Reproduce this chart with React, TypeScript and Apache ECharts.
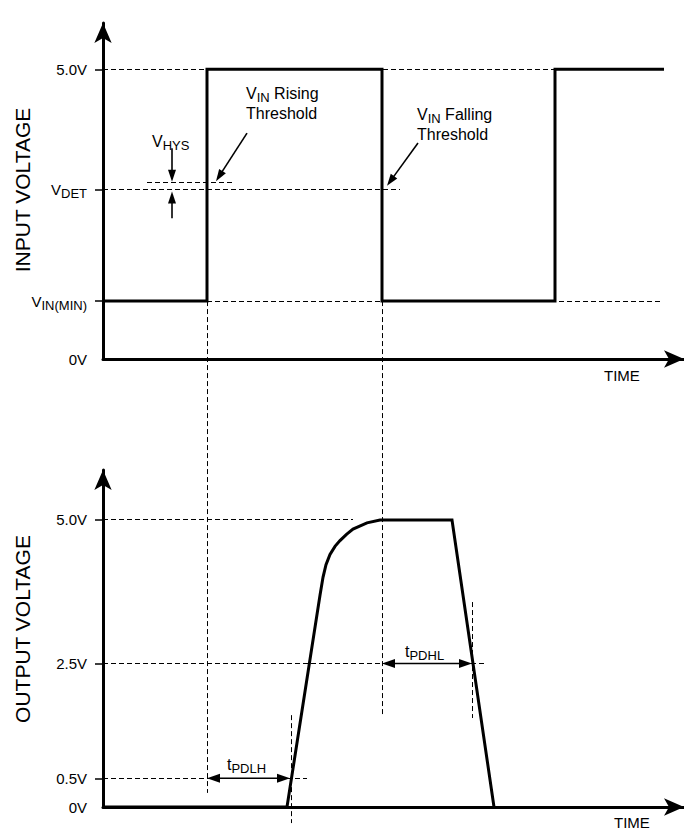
import React, { useEffect, useRef } from 'react';
import * as echarts from 'echarts';

const FONT = "'Liberation Sans', Arial, Helvetica, sans-serif";

// ---------- Top panel: input voltage ----------
const inputTime = [0, 20.8, 20.8, 55.8, 55.8, 90.4, 90.4, 112.2];
const inputVolt = [1.0, 1.0, 5.0, 5.0, 1.0, 1.0, 5.0, 5.0];
const inputTickValues = [0, 1.0, 2.92, 5.0];
const inputTickLabels = ['{n|0V}', '{n|V}{s|IN(MIN)}', '{n|V}{s|DET}', '{n|5.0V}'];
// dashed guides: [t1, v1, t2, v2]
const inputGuides = [
  [0, 5.0, 90.4, 5.0],
  [0, 2.92, 59.4, 2.92],
  [8.8, 3.05, 25.8, 3.05],
  [0, 1.0, 111.8, 1.0],
  [20.8, 1.0, 20.8, -7.49],
  [55.8, 1.0, 55.8, -6.18],
];
// arrows: [t1, v1, t2(tip), v2(tip), heads]
const inputArrows = [
  [13.8, 3.64, 13.8, 3.06, 1],
  [13.8, 2.43, 13.8, 2.89, 1],
  [28.8, 3.9, 22.6, 3.07, 1],
  [63.0, 3.73, 56.8, 2.99, 1],
];

// ---------- Bottom panel: output voltage ----------
const outputTime = [0, 36.8, 43.4, 44.0, 44.6, 45.4, 46.4, 47.4, 48.7, 50.0, 52.8, 55.4, 69.8, 78.2];
const outputVolt = [0, 0, 3.69, 4.0, 4.22, 4.4, 4.54, 4.64, 4.75, 4.84, 4.95, 5.0, 5.0, 0];
const outputTickValues = [0, 0.5, 2.5, 5.0];
const outputTickLabels = ['{n|0V}', '{n|0.5V}', '{n|2.5V}', '{n|5.0V}'];
const outputGuides = [
  [0, 5.0, 50.0, 5.0],
  [0, 2.5, 76.2, 2.5],
  [0, 0.5, 40.8, 0.5],
  [37.6, 1.6, 37.6, -0.28],
  [73.8, 3.57, 73.8, 1.55],
];
const outputArrows = [
  [20.8, 0.5, 37.4, 0.5, 2],
  [55.8, 2.5, 73.8, 2.5, 2],
];

const axisRich = {
  n: { fontSize: 15, fontFamily: FONT, color: '#000', lineHeight: 20 },
  s: { fontSize: 13, fontFamily: FONT, color: '#000', lineHeight: 20, padding: [8, 0, 0, 0] },
};
const gRich = {
  n: { fontSize: 16, fontFamily: FONT, fill: '#000', lineHeight: 20 },
  s: { fontSize: 13, fontFamily: FONT, fill: '#000', lineHeight: 20, padding: [8, 0, 0, 0] },
};

const lookup = (vals: number[], labels: string[]) => (v: number) => {
  let best = 0;
  for (let i = 1; i < vals.length; i++) if (Math.abs(vals[i] - v) < Math.abs(vals[best] - v)) best = i;
  return labels[best];
};

const snap = (v: number) => Math.round(v - 0.5) + 0.5;

const guideRender = (params: any, api: any) => {
  const a = api.coord([api.value(0), api.value(1)]);
  const b = api.coord([api.value(2), api.value(3)]);
  let x1 = a[0], y1 = a[1], x2 = b[0], y2 = b[1];
  if (Math.abs(y1 - y2) < 0.01) { y1 = snap(y1); y2 = y1; }
  if (Math.abs(x1 - x2) < 0.01) { x1 = snap(x1); x2 = x1; }
  return {
    type: 'line',
    silent: true,
    shape: { x1, y1, x2, y2 },
    style: { stroke: '#000', lineWidth: 1, lineDash: [5, 3] },
  };
};

const arrowRender = (params: any, api: any) => {
  const a = api.coord([api.value(0), api.value(1)]);
  const b = api.coord([api.value(2), api.value(3)]);
  const both = api.value(4) === 2;
  const HL = both ? 13 : 12;
  const HW = both ? 9 : 8;
  const dx = b[0] - a[0];
  const dy = b[1] - a[1];
  const len = Math.hypot(dx, dy) || 1;
  const ux = dx / len;
  const uy = dy / len;
  const nx = -uy;
  const ny = ux;
  const head = (tx: number, ty: number, dirx: number, diry: number) => {
    const bx = tx - dirx * HL;
    const by = ty - diry * HL;
    return {
      type: 'polygon',
      shape: { points: [[tx, ty], [bx + (nx * HW) / 2, by + (ny * HW) / 2], [bx - (nx * HW) / 2, by - (ny * HW) / 2]] },
      style: { fill: '#000' },
    };
  };
  const sx = both ? a[0] + ux * (HL - 1) : a[0];
  const sy = both ? a[1] + uy * (HL - 1) : a[1];
  const children: any[] = [
    {
      type: 'line',
      shape: { x1: sx, y1: sy, x2: b[0] - ux * (HL - 1), y2: b[1] - uy * (HL - 1) },
      style: { stroke: '#000', lineWidth: 1.6 },
    },
    head(b[0], b[1], ux, uy),
  ];
  if (both) children.push(head(a[0], a[1], -ux, -uy));
  return { type: 'group', silent: true, children };
};

const xAxisBase = (gridIndex: number) => ({
  gridIndex,
  type: 'value',
  min: 0,
  max: 116.2,
  axisLine: {
    show: true,
    onZero: false,
    symbol: ['none', 'arrow'],
    symbolSize: [13, 20],
    lineStyle: { color: '#000', width: 3 },
  },
  axisTick: { show: false },
  axisLabel: { show: false },
  splitLine: { show: false },
});

const yAxisBase = (gridIndex: number, max: number, ticks: number[], labelVals: number[], labels: string[]) => ({
  gridIndex,
  type: 'value',
  min: 0,
  max,
  axisLine: {
    show: true,
    onZero: false,
    symbol: ['none', 'arrow'],
    symbolSize: [13, 20],
    lineStyle: { color: '#000', width: 3 },
  },
  axisTick: { show: true, customValues: ticks, length: 8, lineStyle: { color: '#000', width: 1.5 } },
  axisLabel: {
    show: true,
    customValues: labelVals,
    margin: 16,
    color: '#000',
    formatter: lookup(labelVals, labels),
    rich: axisRich,
  },
  splitLine: { show: false },
});

const textEl = (x: number, y: number, text: string, size = 16) => ({
  type: 'text',
  x,
  y,
  z: 100,
  silent: true,
  style: { text, rich: gRich, fill: '#000', font: `${size}px ${FONT}`, align: 'left', verticalAlign: 'middle' },
});

export default function App() {
  const ref = useRef<HTMLDivElement>(null);
  useEffect(() => {
    if (!ref.current) return;
    const chart = echarts.init(ref.current, null, { renderer: 'svg' });
    const lineStyle = { color: '#000', width: 3, join: 'miter', cap: 'butt' };
    chart.setOption({
      animation: false,
      backgroundColor: '#fff',
      grid: [
        { left: 103, right: 0, top: 23, height: 336 },
        { left: 103, right: 0, top: 470, height: 337 },
      ],
      xAxis: [xAxisBase(0), xAxisBase(1)],
      yAxis: [
        yAxisBase(0, 5.8, [1.0, 2.92, 5.0], inputTickValues, inputTickLabels),
        yAxisBase(1, 5.87, [0.5, 2.5, 5.0], outputTickValues, outputTickLabels),
      ],
      series: [
        {
          type: 'custom',
          xAxisIndex: 0,
          yAxisIndex: 0,
          z: 1,
          clip: false,
          silent: true,
          encode: { x: [0, 2], y: [1, 3] },
          renderItem: guideRender,
          data: inputGuides,
        },
        {
          type: 'custom',
          xAxisIndex: 1,
          yAxisIndex: 1,
          z: 1,
          clip: false,
          silent: true,
          encode: { x: [0, 2], y: [1, 3] },
          renderItem: guideRender,
          data: outputGuides,
        },
        {
          type: 'line',
          name: 'Input',
          xAxisIndex: 0,
          yAxisIndex: 0,
          z: 5,
          symbol: 'none',
          silent: true,
          lineStyle,
          data: inputTime.map((t, i) => [t, inputVolt[i]]),
        },
        {
          type: 'line',
          name: 'Output',
          xAxisIndex: 1,
          yAxisIndex: 1,
          z: 5,
          symbol: 'none',
          silent: true,
          lineStyle,
          data: outputTime.map((t, i) => [t, outputVolt[i]]),
        },
        {
          type: 'custom',
          xAxisIndex: 0,
          yAxisIndex: 0,
          z: 6,
          clip: false,
          silent: true,
          encode: { x: [0, 2], y: [1, 3] },
          renderItem: arrowRender,
          data: inputArrows,
        },
        {
          type: 'custom',
          xAxisIndex: 1,
          yAxisIndex: 1,
          z: 6,
          clip: false,
          silent: true,
          encode: { x: [0, 2], y: [1, 3] },
          renderItem: arrowRender,
          data: outputArrows,
        },
      ],
      graphic: [
        textEl(246, 103, '{n|V}{s|IN}{n| Rising}\n{n|Threshold}'),
        textEl(417, 124, '{n|V}{s|IN}{n| Falling}\n{n|Threshold}'),
        textEl(152, 141, '{n|V}{s|HYS}'),
        textEl(604, 375, 'TIME', 15),
        textEl(614, 822, 'TIME', 15),
        textEl(227, 764, '{n|t}{s|PDLH}'),
        textEl(405, 651, '{n|t}{s|PDHL}'),
        {
          type: 'text',
          x: 22,
          y: 190,
          rotation: Math.PI / 2,
          silent: true,
          style: { text: 'INPUT VOLTAGE', fill: '#000', font: `21px ${FONT}`, align: 'center', verticalAlign: 'middle' },
        },
        {
          type: 'text',
          x: 22,
          y: 629,
          rotation: Math.PI / 2,
          silent: true,
          style: { text: 'OUTPUT VOLTAGE', fill: '#000', font: `21px ${FONT}`, align: 'center', verticalAlign: 'middle' },
        },
      ],
    });
    return () => chart.dispose();
  }, []);
  return (
    <div
      ref={ref}
      style={{ position: 'fixed', left: 0, top: 0, width: 684, height: 829, background: '#fff' }}
    />
  );
}
